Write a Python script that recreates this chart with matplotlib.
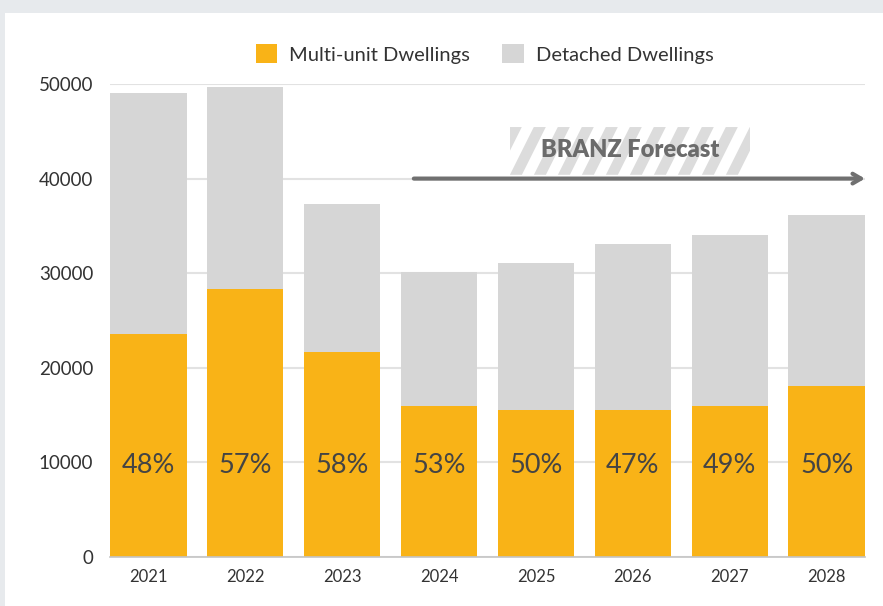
import matplotlib.pyplot as plt
from matplotlib.patches import Rectangle, Polygon

plt.rcParams['font.family'] = ['Lato', 'DejaVu Sans']

years = ['2021', '2022', '2023', '2024', '2025', '2026', '2027', '2028']
multi_unit = [23600, 28300, 21700, 16000, 15500, 15500, 16000, 18100]
totals = [49100, 49700, 37300, 30100, 31100, 33100, 34000, 36100]
detached = [t - m for t, m in zip(totals, multi_unit)]
shares = ['48%', '57%', '58%', '53%', '50%', '47%', '49%', '50%']

ORANGE = '#F9B317'
GREY = '#D6D6D6'

fig = plt.figure(figsize=(8.83, 6.06), dpi=100, facecolor='#E7EAED')
# white card
fig.patches.append(Rectangle((5 / 883, 0), 1, 1 - 13 / 606, transform=fig.transFigure,
                             facecolor='white', edgecolor='none', zorder=-5))

ax = fig.add_axes([110 / 883, 49 / 606, 755 / 883, 473 / 606])
ax.set_facecolor('none')
x = range(len(years))
w = 0.79
ax.bar(x, multi_unit, width=w, color=ORANGE, label='Multi-unit Dwellings', zorder=2)
ax.bar(x, detached, bottom=multi_unit, width=w, color=GREY, label='Detached Dwellings', zorder=2)

for i, s in enumerate(shares):
    ax.text(i, 9700, s, ha='center', va='center', fontsize=19.5,
            color='#444444', zorder=3)

ax.set_xlim(-w / 2, len(years) - 1 + w / 2)
ax.set_ylim(0, 50000)
ax.set_yticks([0, 10000, 20000, 30000, 40000, 50000])
ax.set_xticks(list(x))
ax.set_xticklabels(years)
ax.tick_params(axis='both', length=0, colors='#333333')
ax.tick_params(axis='y', pad=12, labelsize=13.5)
ax.tick_params(axis='x', pad=9, labelsize=12)
ax.grid(axis='y', color='#E2E2E2', linewidth=1.5, zorder=0)
ax.set_axisbelow(True)
for sp in ['top', 'right', 'left']:
    ax.spines[sp].set_visible(False)
ax.spines['bottom'].set_color('#C4C4C4')
ax.spines['bottom'].set_linewidth(1.2)

# forecast box with diagonal stripes
bx0, bx1, by0, by1 = 3.73, 6.21, 40400, 45450
box = Rectangle((bx0, by0), bx1 - bx0, by1 - by0, facecolor='white', edgecolor='none', zorder=3)
ax.add_patch(box)
p0 = ax.transData.transform((0, 0))
p1 = ax.transData.transform((1, 10000))
ux = 1 / (p1[0] - p0[0])            # data units per pixel in x
uy = 10000 / (p1[1] - p0[1])        # data units per pixel in y
hpx = (by1 - by0) / uy
lean = 0.5 * hpx
xs = bx0 - lean * ux
while xs < bx1:
    poly = Polygon([(xs, by0), (xs + 12 * ux, by0),
                    (xs + (12 + lean) * ux, by1), (xs + lean * ux, by1)],
                   closed=True, facecolor='#DCDCDC', edgecolor='none', zorder=4)
    ax.add_patch(poly)
    poly.set_clip_path(box)
    xs += 24 * ux
ax.text((bx0 + bx1) / 2, (by0 + by1) / 2 + 150, 'BRANZ Forecast', ha='center', va='center',
        fontsize=17, fontweight='heavy', color='#6B6B6B', zorder=5)

ax.annotate('', xy=(len(years) - 1 + w / 2, 40000), xytext=(2.74, 40000),
            arrowprops=dict(arrowstyle='->,head_length=0.6,head_width=0.35',
                            color='#707070', lw=3, shrinkA=0, shrinkB=0),
            annotation_clip=False, zorder=5)

fig.legend(loc='center', bbox_to_anchor=(0.549, 0.911), ncol=2, frameon=False,
           fontsize=14.5, handlelength=1.05, handleheight=1.05, handletextpad=0.6,
           columnspacing=1.6, labelcolor='#333333')

fig.savefig('out.png', dpi=100, facecolor=fig.get_facecolor())
